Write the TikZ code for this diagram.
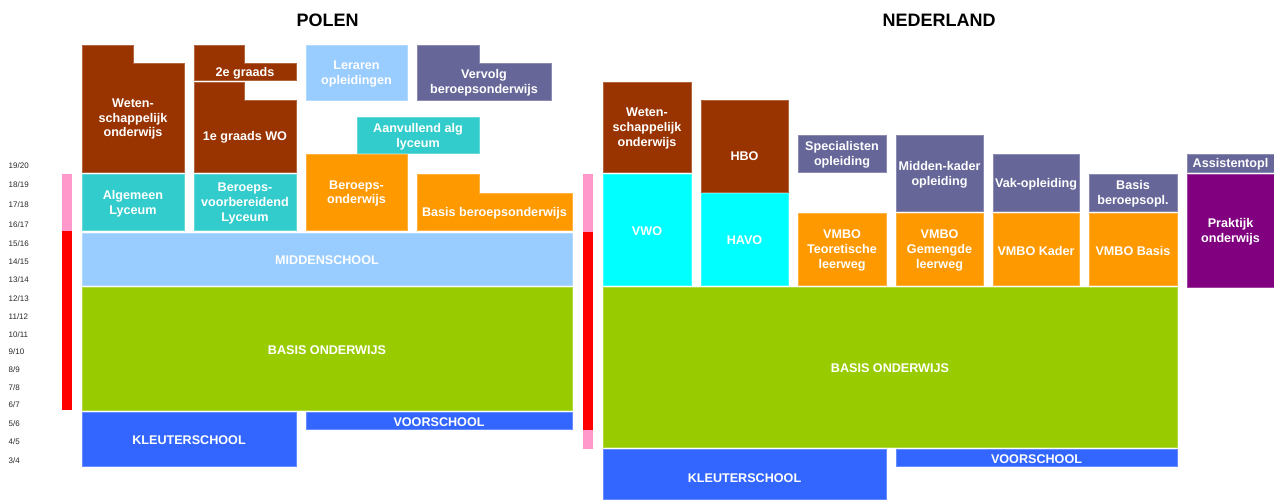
\documentclass[tikz,border=0pt]{standalone}
\usepackage{fontspec}
\setmainfont{Liberation Sans}
\definecolor{cBrown}{HTML}{993300}
\definecolor{cTeal}{HTML}{33CCCC}
\definecolor{cLBlue}{HTML}{99CCFF}
\definecolor{cSlate}{HTML}{666699}
\definecolor{cOrange}{HTML}{FF9900}
\definecolor{cGreen}{HTML}{99CC00}
\definecolor{cBlue}{HTML}{3366FF}
\definecolor{cCyan}{HTML}{00FFFF}
\definecolor{cPurple}{HTML}{800080}
\definecolor{cPink}{HTML}{FF99CC}
\definecolor{cRed}{HTML}{FF0000}
\tikzset{
  lbl/.style={text=white,font=\bfseries\fontsize{12.6}{14.6}\selectfont,align=center,inner sep=0pt,yshift=-1.5pt},
  age/.style={text=black!85,font=\fontsize{8}{9}\selectfont,inner sep=0pt,anchor=west},
  ttl/.style={text=black,font=\bfseries\fontsize{18}{20}\selectfont,inner sep=0pt},
  boxline/.style={line width=0.8pt}
}
\newcommand{\blk}[7]{%
  \filldraw[boxline,fill=#6,draw=#6!75!white] (#2,#3) rectangle (#4,#5);
  \node[lbl] (#1) at ({(#2+#4)/2},{(#3+#5)/2}) {#7};}
\begin{document}
\begin{tikzpicture}[x=1pt,y=-1pt]
\useasboundingbox (0,0) rectangle (1274,499);
% titles
\node[ttl] (tpl) at (327.5,20.5) {POLEN};
\node[ttl] (tnl) at (939,20.5) {NEDERLAND};
% ages
\foreach \t/\y [count=\i] in {{19/20}/166,{18/19}/185,{17/18}/205,{16/17}/225,{15/16}/244,{14/15}/262,{13/14}/280,{12/13}/299,{11/12}/317,{10/11}/335,{9/10}/352,{8/9}/370,{7/8}/388,{6/7}/405,{5/6}/424,{4/5}/442,{3/4}/461}{
  \node[age] (age\i) at (8.5,\y) {\t};
}
% left bars
\fill[cPink] (61.5,174) rectangle (72,231);
\fill[cRed] (61.5,231) rectangle (72,410);
% POLEN stepped blocks
\filldraw[boxline,fill=cBrown,draw=cBrown!75!white] (82,45) -- (133,45) -- (133,63) -- (184,63) -- (184,172) -- (82,172) -- cycle;
\node[lbl] (plwo) at (133,117.5) {Weten-\\schappelijk\\onderwijs};
\filldraw[boxline,fill=cBrown,draw=cBrown!75!white] (194,45) -- (244,45) -- (244,63) -- (296,63) -- (296,80) -- (194,80) -- cycle;
\node[lbl] (pl2e) at (245,71.5) {2e graads};
\filldraw[boxline,fill=cBrown,draw=cBrown!75!white] (194,82) -- (244,82) -- (244,100) -- (296,100) -- (296,172) -- (194,172) -- cycle;
\node[lbl] (pl1e) at (245,136) {1e graads WO};
\filldraw[boxline,fill=cSlate,draw=cSlate!75!white] (417,45) -- (479,45) -- (479,63) -- (551,63) -- (551,100) -- (417,100) -- cycle;
\node[lbl] (plvv) at (484,81.5) {Vervolg\\beroepsonderwijs};
\filldraw[boxline,fill=cOrange,draw=cOrange!75!white] (417,174) -- (479,174) -- (479,193) -- (572,193) -- (572,230) -- (417,230) -- cycle;
\node[lbl] (plbb) at (494.5,211.5) {Basis beroepsonderwijs};
% POLEN rectangles
\blk{plal}{82}{174}{184}{230}{cTeal}{Algemeen\\Lyceum}
\blk{plbl}{194}{174}{296}{230}{cTeal}{Beroeps-\\voorbereidend\\Lyceum}
\blk{plle}{306}{45}{407}{100}{cLBlue}{Leraren\\opleidingen}
\blk{plaa}{357}{117}{479}{153}{cTeal}{Aanvullend alg\\lyceum}
\blk{plbo}{306}{154}{407}{230}{cOrange}{Beroeps-\\onderwijs}
\blk{plms}{82}{233}{572}{285}{cLBlue}{MIDDENSCHOOL}
\blk{plbs}{82}{287}{572}{410}{cGreen}{BASIS ONDERWIJS}
\blk{plks}{82}{412}{296}{466}{cBlue}{KLEUTERSCHOOL}
\blk{plvs}{306}{412}{572}{429}{cBlue}{VOORSCHOOL}
% NL bars
\fill[cPink] (583,174) rectangle (593,232);
\fill[cRed] (583,232) rectangle (593,430);
\fill[cPink] (583,430) rectangle (593,449);
% NEDERLAND
\blk{nlwo}{603}{82}{691}{172}{cBrown}{Weten-\\schappelijk\\onderwijs}
\blk{nlvwo}{603}{174}{691}{285}{cCyan}{VWO}
\filldraw[boxline,fill=cBrown,draw=cBrown!75!white] (701,100) rectangle (788,192);
\node[lbl] (nlhbo) at (744.5,155) {HBO};
\blk{nlhavo}{701}{193}{788}{285}{cCyan}{HAVO}
\blk{nlspec}{798}{135}{886}{172}{cSlate}{Specialisten\\opleiding}
\blk{nlvt}{798}{213}{886}{285}{cOrange}{VMBO\\Teoretische\\leerweg}
\blk{nlmk}{896}{135}{983}{211}{cSlate}{Midden-kader\\opleiding}
\blk{nlvg}{896}{213}{983}{285}{cOrange}{VMBO\\Gemengde\\leerweg}
\blk{nlvak}{993}{154}{1079}{211}{cSlate}{Vak-opleiding}
\blk{nlvk}{993}{213}{1079}{285}{cOrange}{VMBO Kader}
\blk{nlbbo}{1089}{174}{1177}{211}{cSlate}{Basis\\beroepsopl.}
\blk{nlvb}{1089}{213}{1177}{285}{cOrange}{VMBO Basis}
\blk{nlas}{1187}{154}{1274}{172}{cSlate}{Assistentopl}
\blk{nlpo}{1187}{174}{1274}{287}{cPurple}{Praktijk\\onderwijs}
\blk{nlbs}{603}{287}{1177}{447}{cGreen}{BASIS ONDERWIJS}
\filldraw[boxline,fill=cBlue,draw=cBlue!75!white] (603,449) rectangle (886,499);
\node[lbl] (nlks) at (744.5,476.7) {KLEUTERSCHOOL};
\blk{nlvs}{896}{449}{1177}{466}{cBlue}{VOORSCHOOL}
\end{tikzpicture}
\end{document}
